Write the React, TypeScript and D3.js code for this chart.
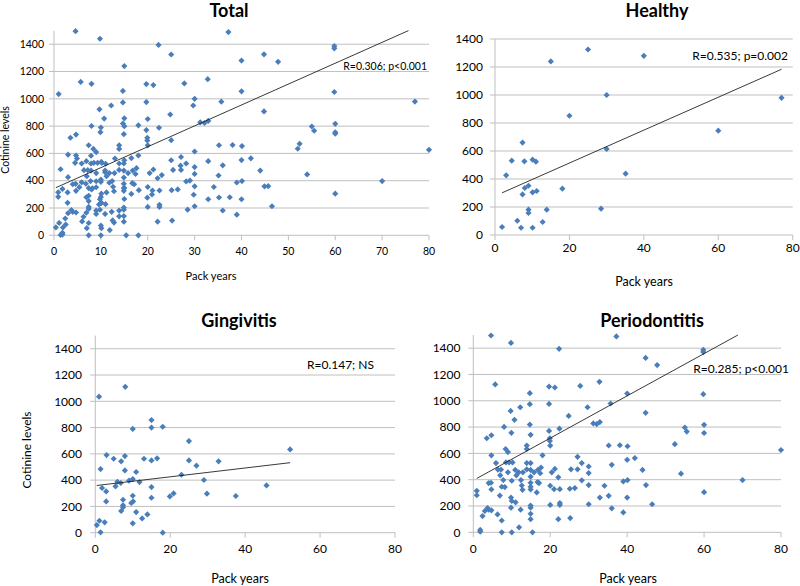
import React from "react";
import * as d3 from "d3";

// ---------- data ----------
const healthyX = [25, 40, 15, 30, 77, 20, 60, 7.4, 30, 4.5, 7.9, 10.1, 11, 35.1, 3, 9, 8, 18.1, 7.4, 10.1, 11.2, 9, 9, 13.9, 28.5, 6, 12.8, 1.9, 7, 10.1];
const healthyY = [1325, 1280, 1240, 1000, 980, 852, 745, 660, 614, 531, 526, 538, 524, 438, 426, 352, 336, 331, 290, 305, 314, 181, 157, 181, 188, 102, 93, 57, 52, 52];

const gingivitisX = [1, 8, 15, 15, 10, 18, 25, 52, 3, 4.9, 7.9, 6.9, 1.4, 7.9, 13, 15, 16.5, 25, 27, 32.9, 10.9, 23, 10, 9, 11.8, 29, 5.9, 6.8, 5.4, 1.8, 2.9, 15, 45.7, 10, 15, 19.9, 20.9, 29.8, 37.5, 2.9, 7.4, 9.6, 10.1, 7.4, 7.4, 6.9, 10.9, 13.9, 12.5, 10, 1.1, 2.5, 0.4, 1.4, 18];
const gingivitisY = [1035, 1110, 857, 800, 790, 806, 697, 634, 591, 563, 583, 543, 484, 474, 563, 550, 566, 550, 510, 543, 462, 441, 408, 396, 385, 401, 388, 378, 353, 340, 314, 347, 360, 281, 266, 276, 299, 297, 279, 238, 251, 226, 238, 208, 193, 165, 157, 139, 109, 71, 91, 79, 58, 3, 0];

const periodontitisX = [
  4.6, 37.2, 9.8, 22.3, 59.8, 59.8, 44.8, 47.8, 5.7, 32.8, 19.7, 21.2, 27.8, 14.7, 40, 59.8, 19.7, 14.7, 35.7, 12.2,
  29.7, 9.7, 10.7, 44.8, 24.8, 14.7, 8, 31.2, 32.1, 32.9, 60, 55, 55.5, 60, 22.4, 19.7, 9.9, 14.9, 19.9, 19.9,
  20, 3.5, 4.7, 52.4, 35.2, 38.1, 40.1, 80, 13.9, 13.9, 8.4, 9, 18, 4.7, 27.1, 42, 40, 5.9, 8.5, 9.3,
  10.2, 13.9, 14.9, 28.2, 36, 7.2, 6.4, 9, 10.9, 11.8, 12.9, 13.9, 14.9, 15.8, 16.8, 17.6, 17.4, 20.4, 21.2, 25.4,
  27.1, 44, 54, 7, 11.2, 14.9, 22.1, 28.2, 7.8, 10, 12.4, 14.9, 16.7, 17.1, 39, 40.1, 70, 0.9, 0.9, 4,
  4.6, 4.7, 7.4, 8.2, 12.6, 12.8, 14.9, 14.9, 16.5, 20, 21, 22.5, 25.1, 26.4, 30, 34.1, 44.9, 60, 6.9, 9.8,
  10, 11, 14.9, 14.9, 14.9, 14.9, 9.8, 12.3, 3, 3.7, 4.7, 4, 2.4, 6.3, 7.4, 20, 22.5, 22.5, 22.1, 25.2,
  30, 32.9, 35.2, 40, 36, 46.5, 39, 1.8, 1.8, 7.4, 10, 11.9, 15.4, 30, 30,
];
const periodontitisY = [
  1496, 1489, 1440, 1395, 1387, 1370, 1326, 1271, 1124, 1144, 1108, 1101, 1113, 1058, 1055, 1050, 976, 974, 979, 951,
  951, 923, 855, 908, 885, 819, 801, 828, 823, 838, 817, 797, 766, 755, 788, 771, 756, 741, 715, 695,
  659, 715, 738, 670, 660, 662, 654, 626, 659, 633, 633, 610, 585, 585, 574, 564, 551, 526, 531, 531,
  531, 526, 526, 526, 513, 477, 477, 456, 474, 456, 456, 479, 474, 456, 474, 492, 449, 456, 482, 479,
  479, 474, 446, 433, 433, 423, 418, 395, 397, 392, 397, 377, 382, 374, 387, 397, 397, 315, 282, 374,
  377, 326, 346, 344, 356, 323, 346, 326, 303, 354, 328, 328, 331, 336, 359, 354, 359, 305, 279, 264,
  238, 228, 203, 187, 141, 100, 187, 172, 162, 185, 167, 172, 123, 136, 90, 208, 223, 208, 100, 108,
  213, 264, 277, 264, 182, 213, 151, 18, 5, 0, 0, 38, 0, 500, 450,
];

const xTicks = [0, 10, 20, 30, 40, 50, 60, 70, 80];
const xTicksWide = [0, 20, 40, 60, 80];
const yTicks = [0, 200, 400, 600, 800, 1000, 1200, 1400];

// trend lines: [intercept, slope, xFrom, xTo]
const trendTotal = [343, 15.3, 0.4, 80];
const trendHealthy = [279, 11.75, 1.9, 77];
const trendGingivitis = [358, 3.36, 0.4, 52];
const trendPeriodontitis = [395, 16.06, 0.9, 80];

const titles = ["Total", "Healthy", "Gingivitis", "Periodontitis"];
const notes = ["R=0.306; p<0.001", "R=0.535; p=0.002", "R=0.147; NS", "R=0.285; p<0.001"];

const totalX = [...healthyX, ...gingivitisX, ...periodontitisX];
const totalY = [...healthyY, ...gingivitisY, ...periodontitisY];

// ---------- layout ----------
const FONT = "Lato, 'Open Sans', sans-serif";
const BLUE = "#4a7ebb";
const GRID = "#bfbfbf";

type Panel = {
  title: string; note: string; xs: number[]; ys: number[]; trend: number[]; xTicks: number[];
  x0: number; x1: number; yTop: number; yBottom: number; yMax: number;
  fs: number; titleX: number; titleY: number; xLabY: number; yLabX: number;
  pyX: number; pyY: number; noteX: number; noteY: number; yTitle?: [number, number];
};

const panels: Panel[] = [
  { title: titles[0], note: notes[0], xs: totalX, ys: totalY, trend: trendTotal, xTicks,
    x0: 54, x1: 429, yTop: 30.6, yBottom: 235.3, yMax: 1500, fs: 10.5,
    titleX: 229, titleY: 16.5, xLabY: 255, yLabX: 44, pyX: 211, pyY: 280, noteX: 427, noteY: 70, yTitle: [8.5, 140] },
  { title: titles[1], note: notes[1], xs: healthyX, ys: healthyY, trend: trendHealthy, xTicks: xTicksWide,
    x0: 495, x1: 792.7, yTop: 39, yBottom: 235, yMax: 1400, fs: 12,
    titleX: 657, titleY: 16.5, xLabY: 251.5, yLabX: 483, pyX: 644, pyY: 286, noteX: 788, noteY: 59.5 },
  { title: titles[2], note: notes[2], xs: gingivitisX, ys: gingivitisY, trend: trendGingivitis, xTicks: xTicksWide,
    x0: 95.3, x1: 395, yTop: 335.6, yBottom: 532.7, yMax: 1500, fs: 12,
    titleX: 239, titleY: 327, xLabY: 553, yLabX: 82, pyX: 240, pyY: 583, noteX: 374, noteY: 368.5, yTitle: [31, 450] },
  { title: titles[3], note: notes[3], xs: periodontitisX, ys: periodontitisY, trend: trendPeriodontitis, xTicks: xTicksWide,
    x0: 473.3, x1: 781, yTop: 335, yBottom: 532.3, yMax: 1500, fs: 12,
    titleX: 652, titleY: 326.5, xLabY: 553, yLabX: 460.5, pyX: 628, pyY: 583, noteX: 789, noteY: 372.5 },
];

const diamond = d3.symbol(d3.symbolSquare, 19)() as string;

function PanelView({ p }: { p: Panel }) {
  const x = d3.scaleLinear().domain([0, 80]).range([p.x0, p.x1]);
  const y = d3.scaleLinear().domain([0, p.yMax]).range([p.yBottom, p.yTop]);
  const [b, m, xa, xb0] = p.trend;
  const xb = Math.min(xb0, (p.yMax - b) / m);
  const line = d3.line<number>().x((v) => x(v)).y((v) => y(b + m * v));
  return (
    <g>
      {yTicks.map((t) => (
        <line key={"g" + t} x1={p.x0 - 5} x2={p.x1} y1={y(t)} y2={y(t)} stroke={GRID} strokeWidth={1} />
      ))}
      <line x1={p.x0} x2={p.x0} y1={p.yTop} y2={p.yBottom} stroke={GRID} strokeWidth={1} />
      {p.xTicks.map((t) => (
        <line key={"xt" + t} x1={x(t)} x2={x(t)} y1={p.yBottom} y2={p.yBottom + 5} stroke={GRID} strokeWidth={1} />
      ))}
      {yTicks.map((t) => (
        <text key={"yl" + t} x={p.yLabX} y={y(t) + p.fs * 0.36} textAnchor="end" fontSize={p.fs} fill="#000">{t}</text>
      ))}
      {p.xTicks.map((t) => (
        <text key={"xl" + t} x={x(t)} y={p.xLabY} textAnchor="middle" fontSize={p.fs} fill="#000">{t}</text>
      ))}
      {p.xs.map((v, i) => (
        <path key={"pt" + i} d={diamond} transform={`translate(${x(v)},${y(p.ys[i])}) rotate(45)`} fill={BLUE} />
      ))}
      <path d={line([xa, xb]) as string} stroke="#222" strokeWidth={0.9} fill="none" />
      <text x={p.titleX} y={p.titleY} textAnchor="middle" fontSize={18} fontWeight="bold" fill="#000">{p.title}</text>
      <text x={p.pyX} y={p.pyY} textAnchor="middle" fontSize={p.fs + 0.5} fill="#000">Pack years</text>
      <text x={p.noteX} y={p.noteY} textAnchor="end" fontSize={p.fs} fill="#000">{p.note}</text>
      {p.yTitle && (
        <text transform={`translate(${p.yTitle[0]},${p.yTitle[1]}) rotate(-90)`} textAnchor="middle" fontSize={p.fs} fill="#000">
          Cotinine levels
        </text>
      )}
    </g>
  );
}

export default function App() {
  return (
    <svg width={800} height={586} style={{ position: "absolute", left: 0, top: 0, background: "#fff" }} fontFamily={FONT}>
      <rect x={0} y={0} width={800} height={586} fill="#fff" />
      {panels.map((p) => (
        <PanelView key={p.title} p={p} />
      ))}
    </svg>
  );
}
